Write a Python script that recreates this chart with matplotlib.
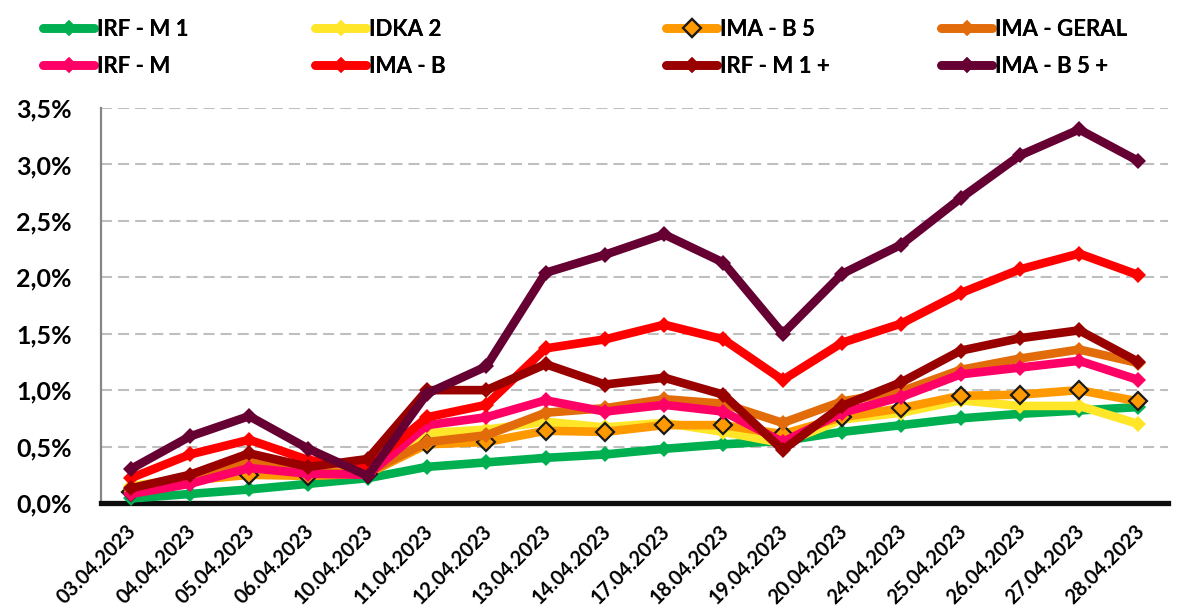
import matplotlib
matplotlib.use("Agg")
import matplotlib.pyplot as plt
import matplotlib.transforms as mtransforms
from matplotlib.ticker import FuncFormatter
import numpy as np

plt.rcParams['font.family'] = ['Lato', 'DejaVu Sans']
plt.rcParams['font.weight'] = 'bold'

dates = ["03.04.2023", "04.04.2023", "05.04.2023", "06.04.2023", "10.04.2023",
         "11.04.2023", "12.04.2023", "13.04.2023", "14.04.2023", "17.04.2023",
         "18.04.2023", "19.04.2023", "20.04.2023", "24.04.2023", "25.04.2023",
         "26.04.2023", "27.04.2023", "28.04.2023"]

irf_m1 = [0.04, 0.08, 0.12, 0.17, 0.22, 0.32, 0.36, 0.40, 0.43, 0.48, 0.52, 0.55, 0.63, 0.69, 0.75, 0.79, 0.82, 0.85]
idka2 = [0.15, 0.22, 0.34, 0.28, 0.26, 0.62, 0.65, 0.72, 0.67, 0.71, 0.63, 0.53, 0.74, 0.80, 0.91, 0.86, 0.86, 0.70]
ima_b5 = [0.10, 0.20, 0.25, 0.24, 0.26, 0.52, 0.54, 0.64, 0.63, 0.69, 0.69, 0.61, 0.76, 0.84, 0.95, 0.96, 1.00, 0.90]
ima_geral = [0.12, 0.22, 0.36, 0.27, 0.27, 0.54, 0.60, 0.80, 0.84, 0.92, 0.88, 0.71, 0.90, 0.99, 1.18, 1.28, 1.36, 1.24]
irf_m = [0.08, 0.17, 0.31, 0.26, 0.25, 0.69, 0.76, 0.91, 0.81, 0.87, 0.81, 0.54, 0.80, 0.94, 1.14, 1.20, 1.26, 1.09]
ima_b = [0.22, 0.43, 0.56, 0.38, 0.32, 0.76, 0.87, 1.37, 1.45, 1.58, 1.45, 1.09, 1.42, 1.59, 1.86, 2.07, 2.21, 2.02]
irf_m1p = [0.13, 0.25, 0.44, 0.32, 0.39, 1.00, 1.00, 1.23, 1.05, 1.11, 0.96, 0.47, 0.86, 1.07, 1.35, 1.46, 1.53, 1.25]
ima_b5p = [0.30, 0.59, 0.77, 0.48, 0.24, 0.97, 1.21, 2.04, 2.20, 2.38, 2.13, 1.50, 2.03, 2.29, 2.70, 3.08, 3.31, 3.03]

names = ["IRF - M 1", "IDKA 2", "IMA - B 5", "IMA - GERAL",
         "IRF - M", "IMA - B", "IRF - M 1 +", "IMA - B 5 +"]
values = [irf_m1, idka2, ima_b5, ima_geral, irf_m, ima_b, irf_m1p, ima_b5p]
colors = ["#00B050", "#FFE629", "#FF9900", "#E36C0A",
          "#FF0066", "#FF0000", "#990000", "#660033"]

fig = plt.figure(figsize=(11.95, 6.12), dpi=100)
ax = fig.add_axes([0.0845, 0.1781, 0.893, 0.6454])

x = np.arange(len(dates))
handles = {}
for i, (name, vals, col) in enumerate(zip(names, values, colors)):
    if name == "IMA - B 5":
        ln, = ax.plot(x, vals, color=col, lw=6.2, marker='D', markersize=9.5,
                      markerfacecolor=col, markeredgecolor='#1a1a1a', markeredgewidth=1.6,
                      solid_joinstyle='round', solid_capstyle='round',
                      zorder=3 + i, clip_on=False)
    else:
        ln, = ax.plot(x, vals, color=col, lw=6.2, marker='D', markersize=8.5,
                      markerfacecolor=col, markeredgecolor=col, markeredgewidth=0,
                      solid_joinstyle='round', solid_capstyle='round',
                      zorder=3 + i, clip_on=False)
    handles[name] = ln

ax.set_xlim(-0.5, len(dates) - 0.5)
ax.set_ylim(0, 3.5)
ax.set_yticks(np.arange(0, 3.51, 0.5))
ax.yaxis.set_major_formatter(FuncFormatter(lambda v, p: f"{v:.1f}%".replace('.', ',')))
ax.set_xticks(x)
ax.set_xticklabels(dates, rotation=45, ha='right', rotation_mode='default')
ax.tick_params(axis='x', length=0, pad=13, labelsize=14.5)
ax.tick_params(axis='y', length=0, pad=21, labelsize=18)
offset = mtransforms.ScaledTranslation(7 / 72, 0, fig.dpi_scale_trans)
for lab in ax.get_xticklabels():
    lab.set_fontweight('bold')
    lab.set_transform(lab.get_transform() + offset)
for lab in ax.get_yticklabels():
    lab.set_fontweight('bold')

ax.yaxis.grid(True, color='#BFBFBF', linestyle=(0, (5.3, 2.9)), linewidth=1.5)
ax.set_axisbelow(True)
for s in ['top', 'right']:
    ax.spines[s].set_visible(False)
ax.spines['left'].set_color('#868686')
ax.spines['left'].set_linewidth(1.6)
ax.spines['bottom'].set_color('#0d0d0d')
ax.spines['bottom'].set_linewidth(3.8)

# legends: four columns, two rows each
cols = [("IRF - M 1", "IRF - M"), ("IDKA 2", "IMA - B"),
        ("IMA - B 5", "IRF - M 1 +"), ("IMA - GERAL", "IMA - B 5 +")]
xstarts = [32, 304, 655, 930]
for (a, b), xs in zip(cols, xstarts):
    lg = fig.legend([handles[a], handles[b]], [a, b], loc='upper left',
                    bbox_to_anchor=(xs / 1195, 1 - 8 / 612), frameon=False,
                    borderpad=0, handlelength=2.3, handletextpad=0.12,
                    labelspacing=0.72, prop={'family': ['Lato', 'DejaVu Sans'],
                                             'weight': 'bold', 'size': 16})
    fig.add_artist(lg)

fig.savefig("out.png", dpi=100)
